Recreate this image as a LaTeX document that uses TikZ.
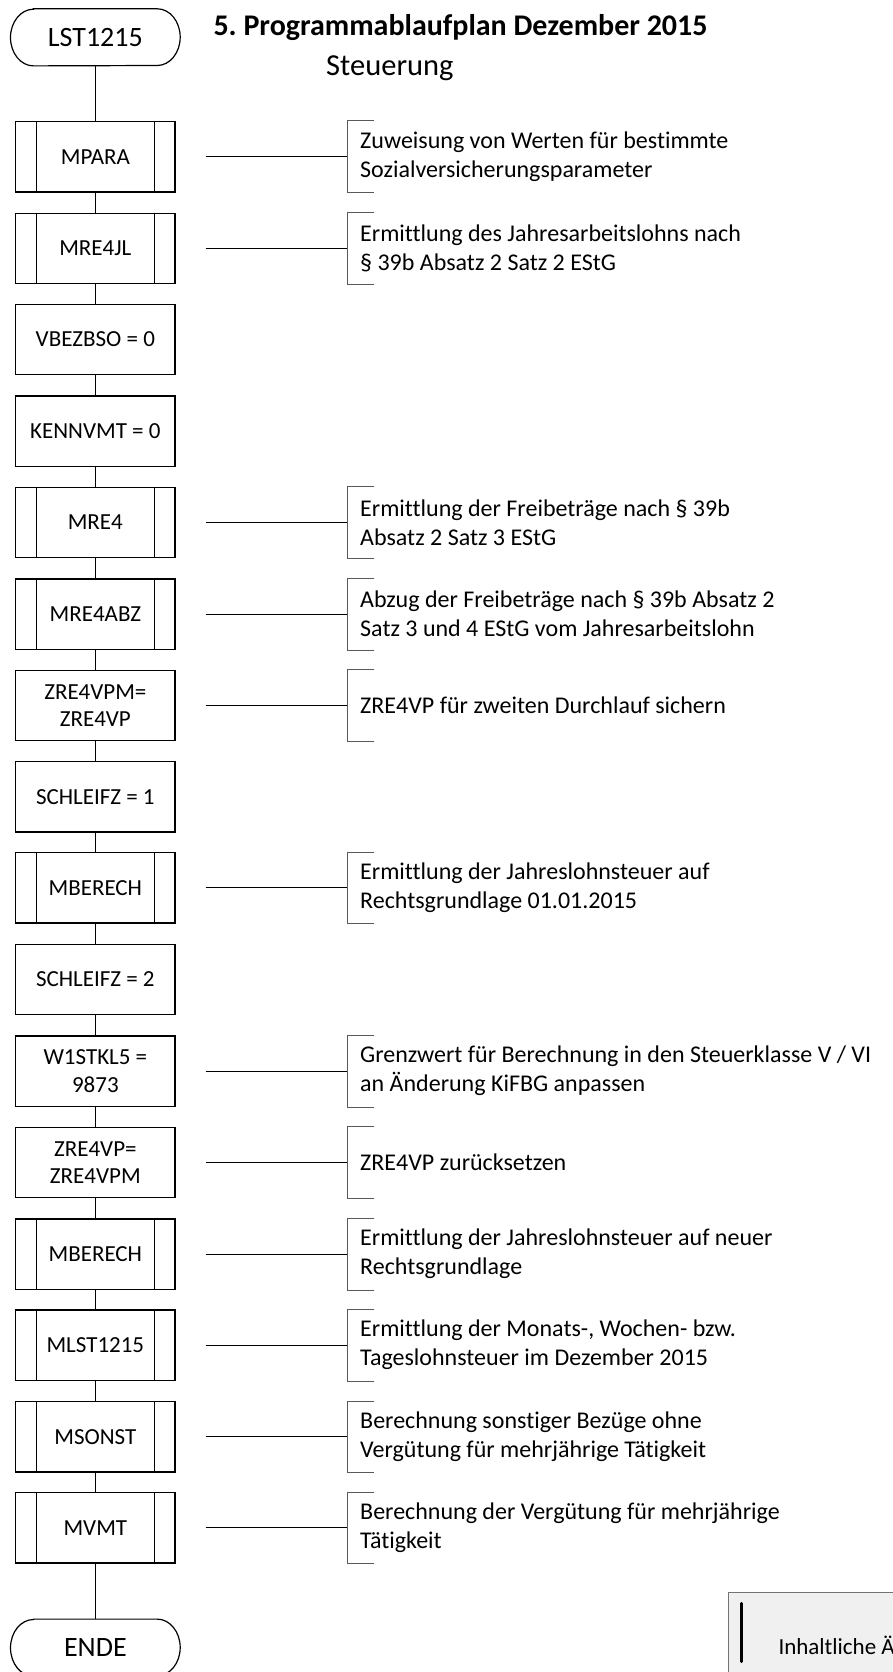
\documentclass[tikz,border=0pt]{standalone}
\usepackage{fontspec}
\setmainfont{Carlito}[Ligatures=CommonOff, Contextuals=AlternateOff, RawFeature={-liga;-clig;-calt;-dlig}]
\frenchspacing
\newcommand\subbars[1]{%
  \draw[boxline] ([xshift=21.3pt]#1.north west) -- ([xshift=21.3pt]#1.south west)
                 ([xshift=-21pt]#1.north east) -- ([xshift=-21pt]#1.south east);}
\newcommand\annot[3]{%
  \coordinate (#2c) at ([xshift=171.7pt]#1.east);
  \draw[link] ([xshift=30pt]#1.east) -- (#2c);
  \draw[brk] ([xshift=198.4pt]#1.north east) -- ([xshift=171.7pt]#1.north east)
             -- ([xshift=171.7pt]#1.south east) -- ([xshift=198.4pt]#1.south east);
  \node[desc] (#2) at ([xshift=184.3pt]#1.east) {#3};}
\newcommand\termshape[1]{%
  \draw[termline] ([xshift=23pt]#1.north west) -- ([xshift=-23pt]#1.north east)
    arc[start angle=90,end angle=-90,x radius=23pt,y radius=28.35pt]
    -- ([xshift=23pt]#1.south west)
    arc[start angle=270,end angle=90,x radius=23pt,y radius=28.35pt] -- cycle;}
\begin{document}
\begin{tikzpicture}[x=1pt,y=-1pt,
  boxline/.style={line width=1.4pt},
  box/.style={draw, boxline, minimum width=159.3pt, minimum height=70.3pt,
    inner sep=0pt, align=center, font=\fontsize{23}{27.5}\selectfont},
  link/.style={line width=1pt},
  brk/.style={line width=1pt, draw=black!65},
  desc/.style={anchor=west, align=left, inner sep=0pt, font=\fontsize{24}{29}\selectfont},
  term/.style={minimum width=169.3pt, minimum height=56.7pt, inner sep=0pt,
    font=\fontsize{28}{32}\selectfont},
  termline/.style={line width=1.2pt},
]
\useasboundingbox (0,0) rectangle (892,1672);

% titles
\node[anchor=west, inner sep=0pt, font=\fontsize{30}{35}\selectfont\bfseries] (title) at (213.3,28) {5. Programmablaufplan Dezember 2015};
\node[anchor=west, inner sep=0pt, font=\fontsize{30.5}{35}\selectfont] (subtitle) at (326,68.3) {Steuerung};

% terminals
\node[term] (start) at (95.35,37.35) {LST1215};
\termshape{start}

% boxes
\node[box] (b1)  at (95.35,156.85)  {MPARA};
\node[box] (b2)  at (95.35,248.45)  {MRE4JL};
\node[box] (b3)  at (95.35,339.45)  {VBEZBSO = 0};
\node[box] (b4)  at (95.35,431.15)  {KENNVMT = 0};
\node[box] (b5)  at (95.35,522.45)  {MRE4};
\node[box] (b6)  at (95.35,614.15)  {MRE4ABZ};
\node[box] (b7)  at (95.35,705.45)  {ZRE4VPM=\\ZRE4VP};
\node[box] (b8)  at (95.35,796.85)  {SCHLEIFZ = 1};
\node[box] (b9)  at (95.35,887.85)  {MBERECH};
\node[box] (b10) at (95.35,979.45)  {SCHLEIFZ = 2};
\node[box] (b11) at (95.35,1071.15) {W1STKL5 =\\9873};
\node[box] (b12) at (95.35,1162.45) {ZRE4VP=\\ZRE4VPM};
\node[box] (b13) at (95.35,1254.15) {MBERECH};
\node[box] (b14) at (95.35,1345.15) {MLST1215};
\node[box] (b15) at (95.35,1436.85) {MSONST};
\node[box] (b16) at (95.35,1527.85) {MVMT};

\node[term] (end) at (95.35,1647.65) {ENDE};
\termshape{end}

\subbars{b1}\subbars{b2}\subbars{b5}\subbars{b6}\subbars{b9}
\subbars{b13}\subbars{b14}\subbars{b15}\subbars{b16}

% flow
\draw[link] (start.south) -- (b1.north);
\draw[link] (b1) -- (b2);
\draw[link] (b2) -- (b3);
\draw[link] (b3) -- (b4);
\draw[link] (b4) -- (b5);
\draw[link] (b5) -- (b6);
\draw[link] (b6) -- (b7);
\draw[link] (b7) -- (b8);
\draw[link] (b8) -- (b9);
\draw[link] (b9) -- (b10);
\draw[link] (b10) -- (b11);
\draw[link] (b11) -- (b12);
\draw[link] (b12) -- (b13);
\draw[link] (b13) -- (b14);
\draw[link] (b14) -- (b15);
\draw[link] (b15) -- (b16);
\draw[link] (b16) -- (end.north);

% annotations
\annot{b1}{d1}{Zuweisung von Werten für bestimmte\\Sozialversicherungsparameter}
\annot{b2}{d2}{Ermittlung des Jahresarbeitslohns nach\\§ 39b Absatz 2 Satz 2 EStG}
\annot{b5}{d5}{Ermittlung der Freibeträge nach § 39b\\Absatz 2 Satz 3 EStG}
\annot{b6}{d6}{Abzug der Freibeträge nach § 39b Absatz 2\\Satz 3 und 4 EStG vom Jahresarbeitslohn}
\annot{b7}{d7}{ZRE4VP für zweiten Durchlauf sichern}
\annot{b9}{d9}{Ermittlung der Jahreslohnsteuer auf\\Rechtsgrundlage 01.01.2015}
\annot{b11}{d11}{Grenzwert für Berechnung in den Steuerklasse V / VI\\an Änderung KiFBG anpassen}
\annot{b12}{d12}{ZRE4VP zurücksetzen}
\annot{b13}{d13}{Ermittlung der Jahreslohnsteuer auf neuer\\Rechtsgrundlage}
\annot{b14}{d14}{Ermittlung der Monats-, Wochen- bzw.\\Tageslohnsteuer im Dezember 2015}
\annot{b15}{d15}{Berechnung sonstiger Bezüge ohne\\Vergütung für mehrjährige Tätigkeit}
\annot{b16}{d16}{Berechnung der Vergütung für mehrjährige\\Tätigkeit}

% legend
\node[draw=black!55, fill=black!6, line width=1pt, minimum width=200pt, minimum height=100pt,
  anchor=north west, inner sep=0pt] (leg) at (727.7,1591.7) {};
\draw[line width=3pt, line cap=round] (741.7,1603.3) -- (741.7,1661.7);
\node[anchor=west, inner sep=0pt, font=\fontsize{23}{28}\selectfont] (legtext) at (778.3,1645) {Inhaltliche Ä};
\end{tikzpicture}
\end{document}
